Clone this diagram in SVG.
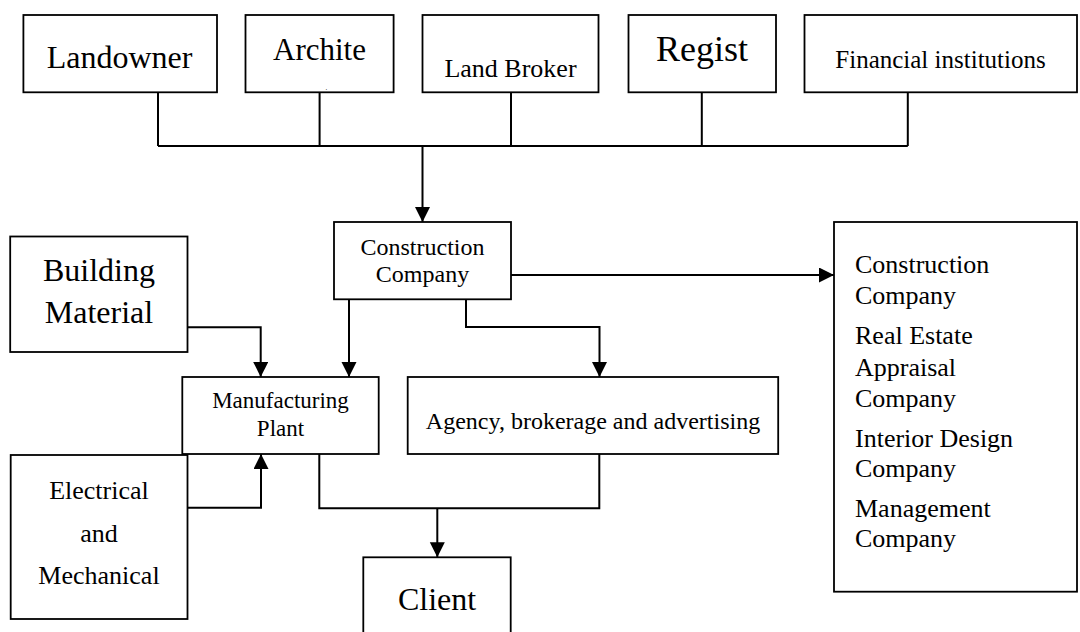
<svg xmlns="http://www.w3.org/2000/svg" width="1080" height="632" viewBox="0 0 1080 632">
<style>
  .box { fill: #ffffff; stroke: #000000; stroke-width: 1.8; }
  .conn { fill: none; stroke: #000000; stroke-width: 2; }
  text { font-family: "Liberation Serif", "Times New Roman", serif; fill: #000000; }
  .c { text-anchor: middle; }
</style>
<defs>
  <marker id="arrow" markerUnits="userSpaceOnUse" markerWidth="16" markerHeight="16" refX="15" refY="7.5" orient="auto">
    <path d="M0,0 L15,7.5 L0,15 z" fill="#000000"/>
  </marker>
</defs>
<rect width="1080" height="632" fill="#ffffff"/>

<g id="connectors">
  <path class="conn" d="M158,92 V146 M319.6,92 V146 M511,92 V146 M701.8,92 V146 M907.8,92 V146 M158,146 H907.8"/>
  <path class="conn" d="M422.5,146 V222" marker-end="url(#arrow)"/>
  <path class="conn" d="M511,275 H834" marker-end="url(#arrow)"/>
  <path class="conn" d="M349,299 V377" marker-end="url(#arrow)"/>
  <path class="conn" d="M466,299 V327 H599.5 V377" marker-end="url(#arrow)"/>
  <path class="conn" d="M187.5,327.3 H260.7 V377" marker-end="url(#arrow)"/>
  <path class="conn" d="M187.5,507.7 H261 V454" marker-end="url(#arrow)"/>
  <path class="conn" d="M319.3,454 V508.3 H599.3 V454"/>
  <path class="conn" d="M437.3,508.3 V557.3" marker-end="url(#arrow)"/>
</g>

<g id="landowner">
  <rect class="box" x="23.4" y="15" width="193.6" height="77.3"/>
  <text class="c" x="119.5" y="68.3" font-size="32">Landowner</text>
</g>
<g id="architect">
  <rect class="box" x="245.5" y="15" width="148.1" height="77.3"/>
  <text class="c" x="319.5" y="60" font-size="31">Archite</text>
  <text x="325.5" y="90" font-size="7">.</text>
</g>
<g id="land-broker">
  <rect class="box" x="422.5" y="15" width="176" height="77.3"/>
  <text class="c" x="510.5" y="77.3" font-size="26">Land Broker</text>
</g>
<g id="registry">
  <rect class="box" x="628.5" y="15" width="147.5" height="77.3"/>
  <text class="c" x="702" y="60.7" font-size="36">Regist</text>
</g>
<g id="financial">
  <rect class="box" x="804.5" y="15" width="272.5" height="77.3"/>
  <text class="c" x="940.5" y="68.3" font-size="25">Financial institutions</text>
</g>

<g id="construction-company">
  <rect class="box" x="334" y="222" width="177" height="77.3"/>
  <text class="c" x="422.5" y="255" font-size="24">Construction</text>
  <text class="c" x="422.5" y="282" font-size="24">Company</text>
</g>

<g id="building-material">
  <rect class="box" x="10.2" y="236.5" width="177.3" height="115.5"/>
  <text class="c" x="99" y="281" font-size="32">Building</text>
  <text class="c" x="99" y="323.3" font-size="32">Material</text>
</g>

<g id="manufacturing-plant">
  <rect class="box" x="182.3" y="377" width="196.4" height="77"/>
  <text class="c" x="280.5" y="408" font-size="23">Manufacturing</text>
  <text class="c" x="280.5" y="436" font-size="23">Plant</text>
</g>

<g id="agency">
  <rect class="box" x="407.7" y="377" width="370.5" height="77"/>
  <text class="c" x="593" y="429.3" font-size="24">Agency, brokerage and advertising</text>
</g>

<g id="electrical">
  <rect class="box" x="10.7" y="455" width="176.8" height="164"/>
  <text class="c" x="99" y="499" font-size="26">Electrical</text>
  <text class="c" x="99" y="541.7" font-size="26">and</text>
  <text class="c" x="99" y="584" font-size="26">Mechanical</text>
</g>

<g id="client">
  <rect class="box" x="363.3" y="557.3" width="147.4" height="100"/>
  <text class="c" x="437" y="610" font-size="32">Client</text>
</g>

<g id="service-companies">
  <rect class="box" x="834" y="222" width="243" height="369.7"/>
  <text x="855" y="273.3" font-size="26">Construction</text>
  <text x="855" y="304" font-size="26">Company</text>
  <text x="855" y="344" font-size="26">Real Estate</text>
  <text x="855" y="375.7" font-size="26">Appraisal</text>
  <text x="855" y="406.7" font-size="26">Company</text>
  <text x="855" y="446.7" font-size="26">Interior Design</text>
  <text x="855" y="476.7" font-size="26">Company</text>
  <text x="855" y="516.7" font-size="26">Management</text>
  <text x="855" y="546.7" font-size="26">Company</text>
</g>
</svg>
